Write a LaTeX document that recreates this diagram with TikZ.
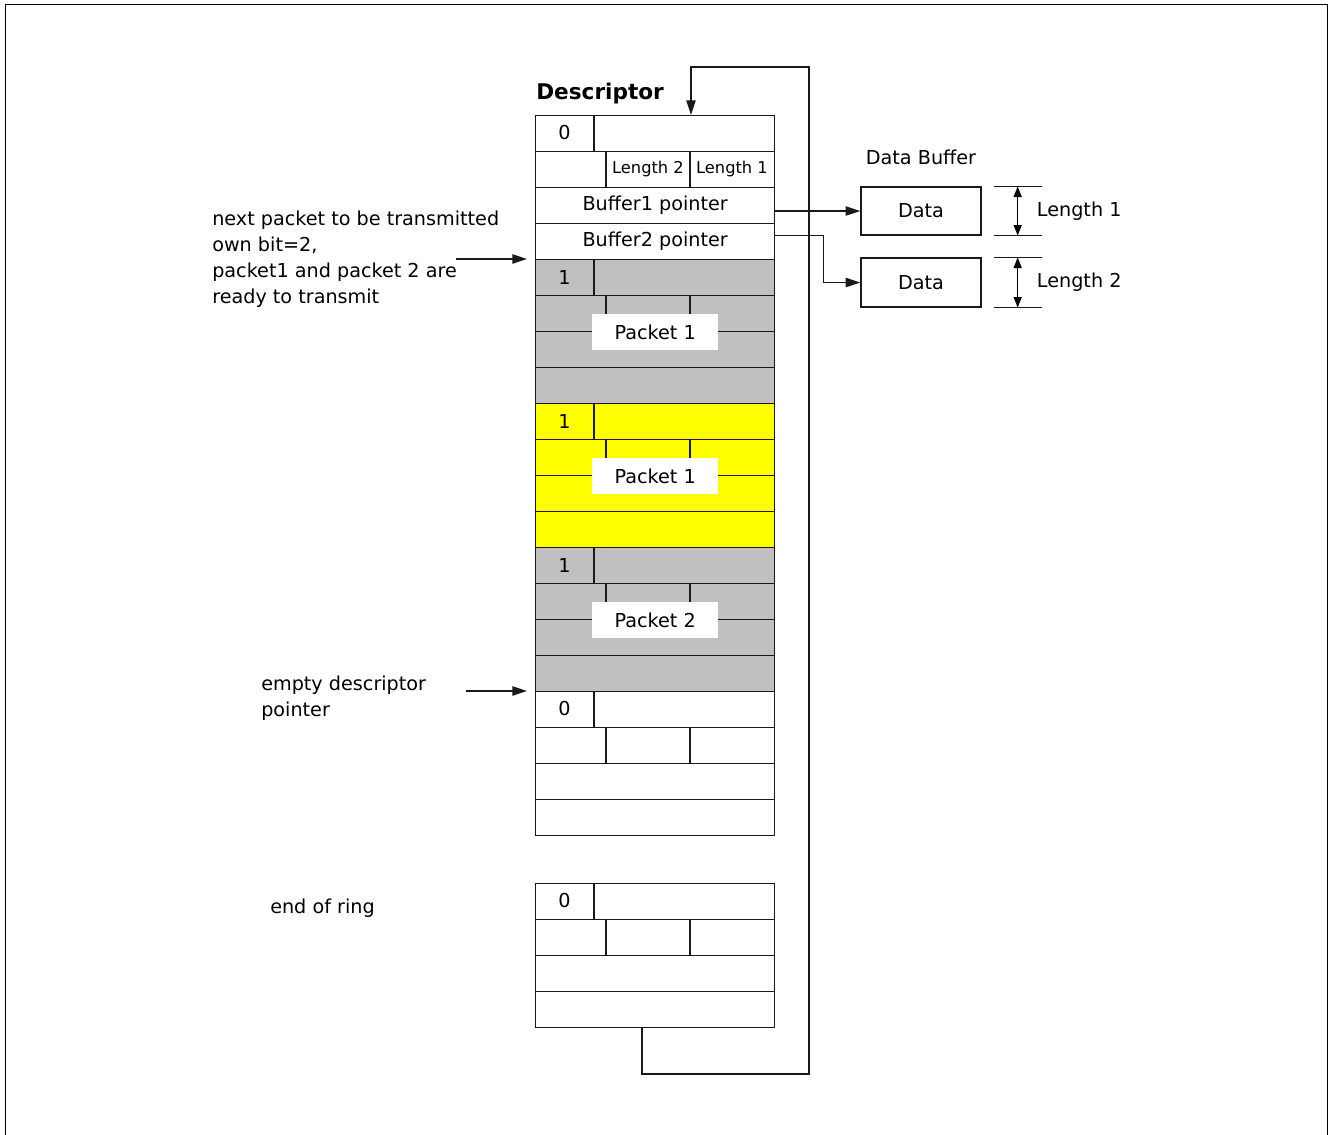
\documentclass[tikz,border=0pt]{standalone}
\usepackage{fontspec}
\setmainfont{DejaVu Sans}
\usetikzlibrary{arrows.meta,positioning,calc}

\definecolor{slotgray}{RGB}{192,192,192}
\definecolor{slotyellow}{RGB}{255,255,0}

\begin{document}
\begin{tikzpicture}[x=0.75pt,y=-0.75pt,
    every node/.style={inner sep=0pt,font=\fontsize{14.4}{19.5}\selectfont},
    row/.style={draw=black!90,line width=1pt,minimum width=179.25pt,minimum height=27pt,anchor=north west},
    grid/.style={draw=black!90,line width=1pt},
    databox/.style={draw=black!90,line width=1pt,minimum width=90pt,minimum height=36pt},
    pktlabel/.style={fill=white,minimum width=94.5pt,minimum height=27pt},
    ptr/.style={draw=black!90,line width=1pt,-{Triangle[length=11pt,width=7pt]}},
    dim/.style={line width=1pt,{Triangle[length=8pt,width=6pt]}-{Triangle[length=8pt,width=6pt]}},
    wire/.style={draw=black!90,line width=1pt}]

  \def\xl{535}   %left edge of the ring
  \def\h{36}     %height of one descriptor word

  \useasboundingbox (0,0) rectangle (1329,1135);
  \draw[line width=1pt] (5.5,1135) |- (1327.5,4.5) -- (1327.5,1135);	%frame

  %DESCRIPTORS: name / top / fill / own bit
  \foreach \blk/\ytop/\col/\own in {d0/115/white/0, p1/259/slotgray/1, p2/403/slotyellow/1,
      p3/547/slotgray/1, e0/691/white/0, r0/883/white/0}{
    \foreach \i in {1,...,4}
      \node[row,fill=\col] (\blk-r\i) at (\xl,\ytop+\h*\i-\h) {};
    \draw[grid] (\xl+59,\ytop) -- ++(0,\h);	%own bit cell
    \draw[grid] (\xl+71,\ytop+\h) -- ++(0,\h);	%length fields
    \draw[grid] (\xl+155,\ytop+\h) -- ++(0,\h);
    \node (\blk-own) at (\xl+29.5,\ytop+\h/2) {\own};
  } %end of descriptor loop

  \node[anchor=base west,font=\fontsize{16.2}{20}\selectfont\bfseries] (title) at (536,99) {Descriptor};
  \node[font=\fontsize{12.2}{14}\selectfont] (len2f) at (648,169) {Length 2};
  \node[font=\fontsize{12.2}{14}\selectfont] (len1f) at (732,169) {Length 1};
  \node (buf1) at (d0-r3) {Buffer1 pointer};
  \node (buf2) at (d0-r4) {Buffer2 pointer};

  \node[pktlabel] (pkt1) at (p1-r2.south) {Packet 1};
  \node[pktlabel] (pkt1b) at (p2-r2.south) {Packet 1};
  \node[pktlabel] (pkt2) at (p3-r2.south) {Packet 2};

  %DATA BUFFERS
  \node (dbuf) at (921,157) {Data Buffer};
  \node[databox] (data1) at (921,211) {Data};
  \node[databox,minimum height=36.75pt] (data2) at (921,282.5) {Data};
  \draw[ptr] (d0-r3.east |- data1.west) -- (data1.west);
  \draw[ptr] ([yshift=4.5pt]d0-r4.east) -- ++(48,0) |- (data2.west);

  \foreach \buf/\n in {data1/1,data2/2}{
    \draw[wire] ($(\buf.north east)+(12,0)$) -- ++(48,0);
    \draw[wire] ($(\buf.south east)+(12,0)$) -- ++(48,0);
    \draw[dim] ($(\buf.north east)+(36,0)$) -- ($(\buf.south east)+(36,0)$);
    \node[anchor=west] (len\n) at ($(\buf.east)+(55,0)$) {Length \n};
  } %end of length loop

  %POINTERS
  \node[anchor=north west,align=left] (next) at (212,211)
    {next packet to be transmitted\\own bit=2,\\packet1 and packet 2 are\\ready to transmit};
  \draw[ptr,shorten >=6pt] ($(p1-r1.north west)+(-79,0)$) -- (p1-r1.north west);
  \node[anchor=north west,align=left] (empty) at (261,676) {empty descriptor\\pointer};
  \draw[ptr,shorten >=6pt] ($(e0-r1.north west)+(-69,0)$) -- (e0-r1.north west);
  \node[anchor=base west] (eor) at (270,913) {end of ring};

  %RING WRAP
  \coordinate (ringout) at ($(r0-r4.south west)+(107,0)$);
  \coordinate (ringin) at ($(d0-r1.north west)+(156,0)$);
  \draw[ptr] (ringout) |- (809,1074) |- (691,67) -- (ringin);
\end{tikzpicture}
\end{document}
